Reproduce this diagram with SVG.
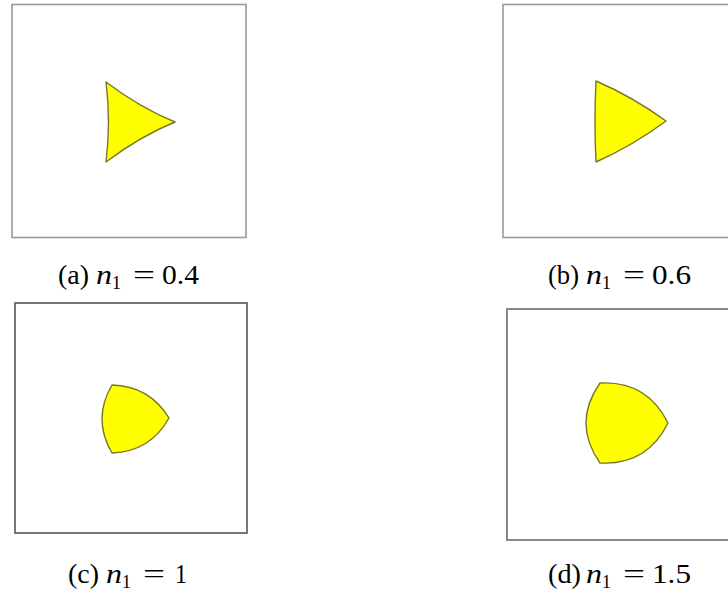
<svg xmlns="http://www.w3.org/2000/svg" width="728" height="591" viewBox="0 0 728 591">
<style>
.frame{fill:#fff;stroke:#999;stroke-width:1.6}
.shape{fill:#ffff00;stroke:#77772a;stroke-width:1.4;stroke-linejoin:round}
text{font-family:"Liberation Serif","Times New Roman",serif;font-size:27px;fill:#000}
.it{font-style:italic}
.sub{font-size:19px}
</style>
<rect width="728" height="591" fill="#fff"/>
<g id="panel-a">
<rect class="frame" x="12" y="4.5" width="234" height="233"/>
<path class="shape" d="M106,82 Q140.5,108 175,122 Q140.5,136 106,162 Q111,122 106,82 Z"/>
<text x="58" y="284" textLength="31" lengthAdjust="spacingAndGlyphs">(a)</text>
<text class="it" x="96" y="284" textLength="16" lengthAdjust="spacingAndGlyphs">n</text>
<text class="sub" x="112" y="289" textLength="9" lengthAdjust="spacingAndGlyphs">1</text>
<text x="133" y="284" textLength="22" lengthAdjust="spacingAndGlyphs">=</text>
<text x="162" y="284" textLength="37" lengthAdjust="spacingAndGlyphs">0.4</text>
</g>
<g id="panel-b">
<rect class="frame" x="503" y="4.5" width="240" height="233"/>
<path class="shape" d="M596,81 Q633,97 666,121 Q633,145.5 596,162 Q594,121.5 596,81 Z"/>
<text x="548" y="284" textLength="31" lengthAdjust="spacingAndGlyphs">(b)</text>
<text class="it" x="586" y="284" textLength="16" lengthAdjust="spacingAndGlyphs">n</text>
<text class="sub" x="602" y="289" textLength="9" lengthAdjust="spacingAndGlyphs">1</text>
<text x="623" y="284" textLength="22" lengthAdjust="spacingAndGlyphs">=</text>
<text x="652" y="284" textLength="39" lengthAdjust="spacingAndGlyphs">0.6</text>
</g>
<g id="panel-c">
<rect class="frame" x="15" y="303" width="232" height="230" style="stroke:#555"/>
<path class="shape" d="M112,385 Q149.5,386 169,418 Q150.5,451.5 112,453 Q92,419 112,385 Z"/>
<text x="68" y="583" textLength="31" lengthAdjust="spacingAndGlyphs">(c)</text>
<text class="it" x="106" y="583" textLength="16" lengthAdjust="spacingAndGlyphs">n</text>
<text class="sub" x="122" y="588" textLength="9" lengthAdjust="spacingAndGlyphs">1</text>
<text x="143" y="583" textLength="22" lengthAdjust="spacingAndGlyphs">=</text>
<text x="175" y="583" textLength="12" lengthAdjust="spacingAndGlyphs">1</text>
</g>
<g id="panel-d">
<rect class="frame" x="507" y="309" width="240" height="231" style="stroke:#888;stroke-width:2"/>
<path class="shape" d="M600,383 Q647,380.6 668,423 Q647,465.4 600,463 Q572,423 600,383 Z"/>
<text x="548" y="583" textLength="33" lengthAdjust="spacingAndGlyphs">(d)</text>
<text class="it" x="586" y="583" textLength="16" lengthAdjust="spacingAndGlyphs">n</text>
<text class="sub" x="602" y="588" textLength="9" lengthAdjust="spacingAndGlyphs">1</text>
<text x="623" y="583" textLength="22" lengthAdjust="spacingAndGlyphs">=</text>
<text x="652" y="583" textLength="39" lengthAdjust="spacingAndGlyphs">1.5</text>
</g>
<g id="connectors"/>
</svg>
